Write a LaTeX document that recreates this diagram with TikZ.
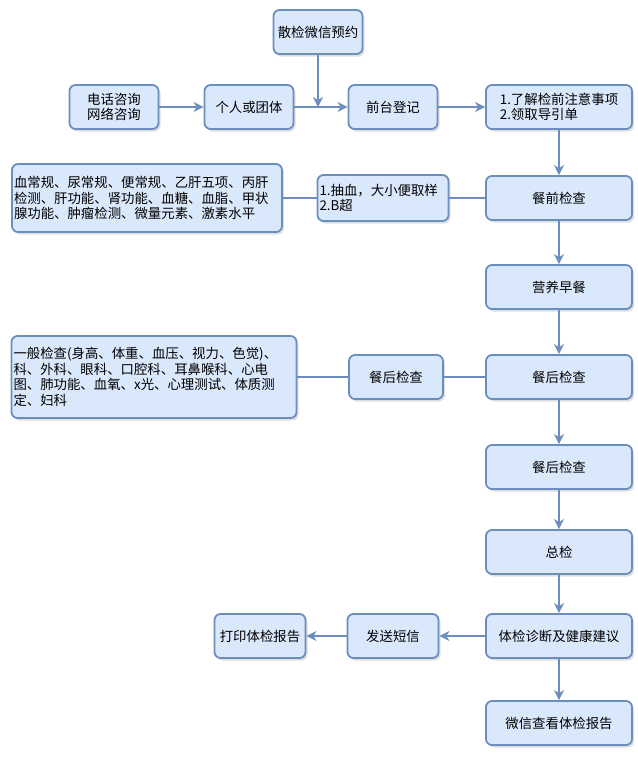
\documentclass[tikz,border=0pt]{standalone}
\usepackage{fontspec}
\setmainfont{Noto Sans CJK SC}
\usetikzlibrary{shadows}
\usetikzlibrary{arrows.meta}
\definecolor{boxfill}{HTML}{DAE8FC}
\definecolor{boxline}{HTML}{6C8EBF}
\tikzset{
  box/.style={draw=boxline, fill=boxfill, line width=1.8pt, rounded corners=6pt,
    minimum width=89pt, minimum height=44pt, inner sep=2pt,
    drop shadow={opacity=0.25, shadow xshift=2pt, shadow yshift=-2.5pt},
    font=\fontsize{13.4}{15.5}\selectfont},
  wide/.style={box, minimum width=146pt},
  link/.style={boxline, line width=2pt},
  arr/.style={link, -{Stealth[length=10pt, width=10pt, inset=3pt]}},
}
\begin{document}
\begin{tikzpicture}[x=1pt, y=-1pt]
\useasboundingbox (0,0) rectangle (638,764);
%NODI
\node[box] (wx) at (318,32) {散检微信预约};
\node[box, align=center] (tel) at (114,107) {电话咨询\\网络咨询};
\node[box] (grp) at (249,107) {个人或团体};
\node[box] (reg) at (393,107) {前台登记};
\node[wide, align=left] (note) at (559,107) {1.了解检前注意事项\\2.领取导引单};
\node[wide] (pre) at (559,198) {餐前检查};
\node[box, text width=127pt, minimum height=46pt, align=left] (blood) at (383,198) {1.抽血，大小便取样\\2.B超};
\node[box, text width=266pt, minimum height=68pt, align=left] (prelist) at (147,198)
  {血常规、尿常规、便常规、乙肝五项、丙肝\\检测、肝功能、肾功能、血糖、血脂、甲状\\腺功能、肿瘤检测、微量元素、激素水平};
\node[wide] (bkf) at (559,287) {营养早餐};
\node[wide] (post) at (559,377) {餐后检查};
\node[box, minimum width=94pt] (postb) at (396,377) {餐后检查};
\node[box, text width=281pt, minimum height=82pt, align=left] (postlist) at (154,377)
  {一般检查(身高、体重、血压、视力、色觉)、\\科、外科、眼科、口腔科、耳鼻喉科、心电\\图、肺功能、血氧、x光、心理测试、体质测\\定、妇科};
\node[wide] (post2) at (559,467) {餐后检查};
\node[wide] (tot) at (559,552) {总检};
\node[wide] (diag) at (559,636) {体检诊断及健康建议};
\node[box, minimum width=91pt] (sms) at (393,636) {发送短信};
\node[box, minimum width=91pt] (print) at (260,636) {打印体检报告};
\node[wide] (view) at (559,723) {微信查看体检报告};
\coordinate (join) at (wx |- grp.east);
%FRECCE
\draw[arr] (tel) -- (grp);
\draw[arr] (grp) -- (reg);
\draw[arr] (wx) -- (join);
\draw[arr] (reg) -- (note);
\draw[arr] (note) -- (pre);
\draw[arr] (pre) -- (bkf);
\draw[arr] (bkf) -- (post);
\draw[arr] (post) -- (post2);
\draw[arr] (post2) -- (tot);
\draw[arr] (tot) -- (diag);
\draw[arr] (diag) -- (sms);
\draw[arr] (sms) -- (print);
\draw[arr] (diag) -- (view);
%LINEE
\draw[link] (pre) -- (blood);
\draw[link] (blood) -- (prelist);
\draw[link] (post) -- (postb);
\draw[link] (postb) -- (postlist);
\end{tikzpicture}
\end{document}
